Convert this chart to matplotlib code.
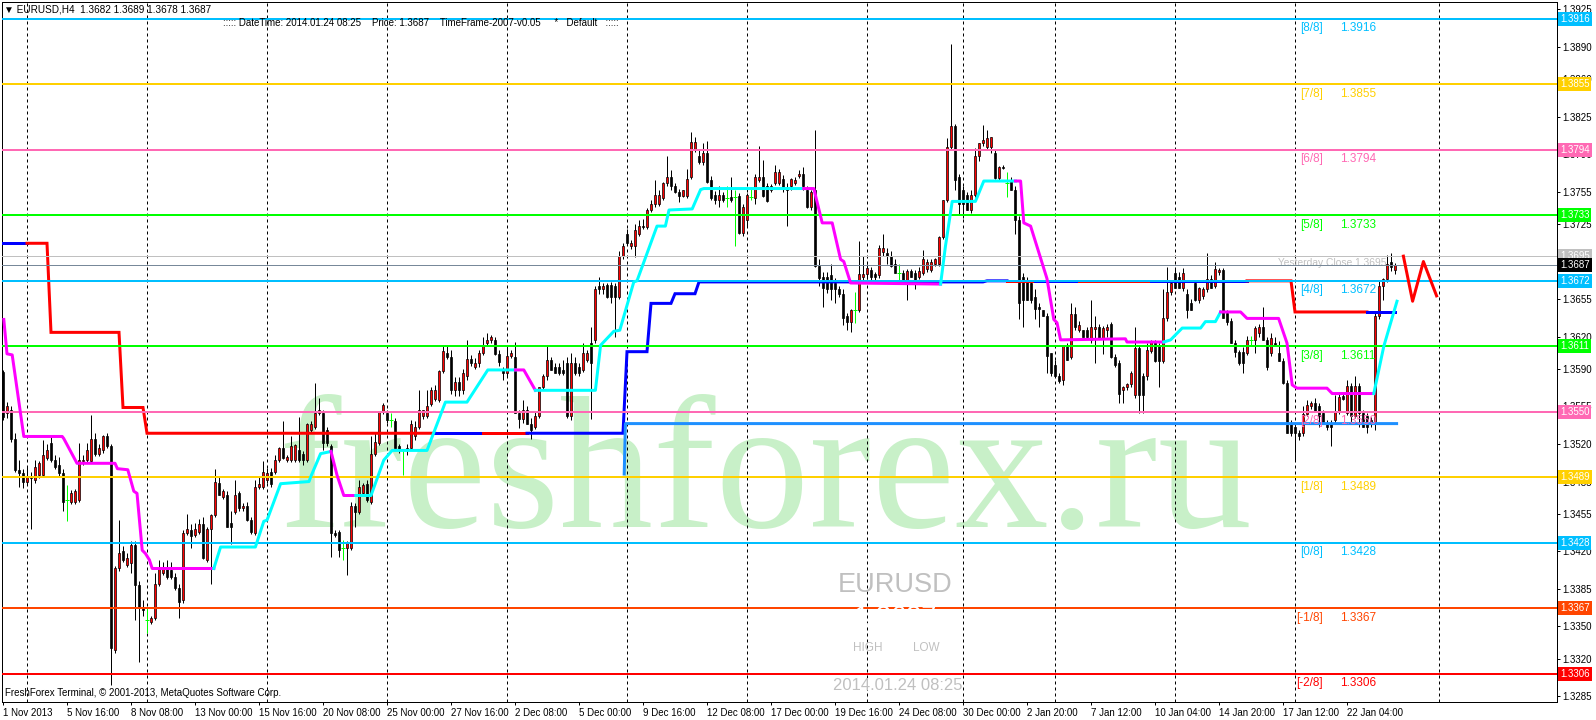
import numpy as np
import matplotlib
matplotlib.use('Agg')
import matplotlib.pyplot as plt
from matplotlib.transforms import blended_transform_factory

plt.rcParams['font.family'] = ['Liberation Sans', 'DejaVu Sans']

BASE = 1.3
PIP = 0.0001

# EURUSD H4 candles, prices in pips above 1.3000 (bar 0 = 1 Nov 2013 00:00)
open_pips = [
    587, 549, 552, 525, 496, 493, 485, 490, 486, 491,
    491, 507, 521, 505, 500, 493, 468, 466, 466, 468,
    504, 505, 504, 525, 511, 514, 527, 518, 328, 404,
    420, 407, 409, 426, 389, 367, 356, 354, 358, 390,
    400, 404, 403, 396, 386, 375, 437, 440, 435, 438,
    445, 412, 441, 454, 484, 471, 472, 446, 457, 474,
    460, 462, 449, 437, 480, 480, 486, 494, 494, 505,
    516, 505, 505, 505, 514, 511, 505, 533, 536, 549,
    549, 533, 518, 437, 438, 423, 423, 423, 462, 457,
    474, 483, 466, 511, 521, 550, 549, 542, 541, 518,
    514, 514, 516, 527, 536, 546, 546, 557, 562, 561,
    588, 605, 601, 570, 578, 570, 583, 599, 592, 595,
    605, 614, 617, 617, 604, 589, 586, 602, 601, 549,
    543, 552, 539, 536, 546, 573, 583, 598, 592, 592,
    589, 595, 546, 595, 592, 589, 598, 614, 617, 667,
    664, 668, 668, 667, 657, 695, 716, 704, 704, 716,
    723, 722, 738, 744, 744, 749, 763, 769, 760, 755,
    751, 751, 769, 794, 788, 783, 791, 766, 752, 747,
    752, 749, 750, 750, 751, 717, 729, 750, 749, 766,
    769, 760, 757, 763, 763, 767, 758, 760, 763, 770,
    772, 757, 741, 757, 686, 676, 676, 677, 670, 664,
    660, 639, 634, 645, 645, 676, 678, 682, 678, 677,
    699, 698, 695, 688, 679, 679, 673, 681, 679, 676,
    679, 683, 682, 688, 688, 713, 747, 797, 816, 769,
    757, 752, 738, 752, 788, 800, 797, 797, 791, 768,
    778, 763, 766, 757, 729, 676, 673, 670, 657, 648,
    645, 639, 605, 594, 583, 580, 611, 601, 641, 626,
    626, 626, 617, 627, 629, 618, 626, 632, 601, 595,
    570, 573, 576, 566, 609, 583, 583, 607, 615, 612,
    597, 637, 662, 679, 676, 665, 660, 651, 670, 654,
    658, 664, 674, 667, 680, 682, 642, 635, 614, 606,
    606, 605, 617, 617, 623, 629, 617, 605, 614, 605,
    597, 577, 539, 536, 530, 530, 548, 555, 558, 555,
    549, 540, 540, 542, 550, 565, 549, 574, 546, 574,
    549, 546, 542, 539, 639, 667, 674, 690, 682,
]
high_pips = [
    589, 559, 555, 530, 505, 497, 499, 494, 505, 504,
    524, 520, 527, 510, 508, 497, 482, 477, 478, 521,
    510, 521, 547, 530, 520, 528, 530, 520, 406, 449,
    425, 418, 430, 430, 392, 375, 367, 360, 400, 412,
    410, 412, 410, 400, 390, 440, 455, 445, 446, 450,
    452, 443, 455, 497, 490, 478, 476, 458, 486, 476,
    465, 466, 452, 486, 490, 504, 498, 498, 510, 517,
    541, 510, 527, 520, 545, 513, 540, 541, 577, 563,
    552, 536, 520, 440, 440, 431, 430, 466, 465, 486,
    484, 486, 527, 530, 551, 558, 552, 549, 544, 520,
    515, 520, 542, 541, 570, 552, 570, 573, 575, 589,
    611, 611, 608, 582, 582, 590, 617, 603, 600, 608,
    620, 623, 622, 620, 608, 592, 611, 608, 615, 552,
    561, 555, 544, 550, 573, 585, 612, 601, 595, 595,
    598, 601, 605, 601, 595, 614, 608, 629, 667, 676,
    670, 670, 671, 670, 700, 707, 720, 710, 725, 729,
    730, 740, 747, 766, 757, 764, 788, 775, 763, 758,
    757, 776, 811, 806, 794, 800, 802, 770, 756, 760,
    755, 760, 769, 757, 754, 744, 754, 759, 772, 798,
    785, 763, 762, 780, 776, 771, 763, 768, 769, 775,
    778, 760, 757, 813, 692, 680, 680, 688, 675, 667,
    664, 642, 646, 662, 709, 695, 688, 685, 680, 705,
    716, 703, 700, 692, 688, 682, 683, 683, 682, 685,
    701, 692, 692, 693, 714, 747, 805, 893, 818, 772,
    760, 755, 757, 796, 800, 817, 813, 806, 794, 779,
    780, 773, 769, 760, 732, 679, 676, 673, 664, 651,
    645, 642, 605, 598, 586, 611, 614, 651, 648, 635,
    626, 629, 654, 639, 632, 630, 632, 634, 604, 598,
    574, 577, 588, 629, 612, 586, 614, 617, 617, 614,
    664, 685, 672, 684, 680, 684, 664, 655, 673, 666,
    666, 698, 677, 690, 684, 684, 645, 637, 617, 608,
    610, 621, 621, 630, 632, 648, 620, 623, 620, 616,
    600, 580, 542, 540, 533, 555, 561, 560, 563, 558,
    552, 542, 542, 566, 568, 567, 580, 577, 583, 577,
    552, 549, 545, 642, 673, 675, 696, 698, 689,
]
low_pips = [
    542, 544, 522, 494, 480, 479, 483, 441, 484, 488,
    490, 505, 503, 497, 490, 458, 448, 464, 464, 466,
    500, 503, 502, 509, 509, 512, 516, 295, 325, 402,
    410, 405, 400, 356, 317, 360, 344, 352, 356, 388,
    398, 394, 394, 384, 358, 372, 435, 423, 433, 436,
    413, 410, 390, 452, 472, 469, 443, 427, 455, 458,
    458, 448, 436, 435, 478, 478, 484, 480, 492, 503,
    506, 503, 503, 503, 503, 500, 503, 531, 534, 547,
    514, 518, 415, 433, 415, 412, 398, 421, 443, 455,
    472, 466, 464, 509, 519, 548, 540, 536, 516, 512,
    491, 510, 514, 524, 534, 543, 544, 555, 560, 559,
    586, 599, 567, 565, 565, 567, 580, 593, 590, 592,
    603, 611, 614, 603, 593, 580, 583, 600, 549, 535,
    540, 539, 525, 534, 544, 570, 580, 589, 586, 584,
    584, 544, 542, 584, 583, 587, 596, 543, 614, 660,
    660, 656, 651, 620, 655, 692, 705, 702, 694, 714,
    720, 720, 736, 741, 742, 747, 760, 757, 754, 745,
    750, 749, 767, 792, 781, 780, 763, 747, 744, 741,
    745, 741, 745, 704, 716, 714, 722, 747, 744, 764,
    750, 745, 755, 761, 761, 755, 723, 757, 761, 768,
    757, 740, 738, 685, 667, 648, 661, 654, 651, 657,
    631, 626, 624, 633, 643, 672, 674, 670, 672, 675,
    695, 688, 685, 679, 673, 673, 654, 676, 664, 674,
    677, 680, 680, 686, 686, 711, 745, 795, 757, 734,
    731, 738, 735, 750, 784, 798, 795, 791, 767, 766,
    776, 750, 757, 716, 636, 629, 654, 651, 636, 629,
    639, 586, 583, 583, 577, 575, 598, 599, 626, 624,
    620, 618, 614, 595, 618, 604, 620, 600, 592, 558,
    558, 570, 573, 563, 549, 549, 580, 605, 596, 573,
    595, 635, 659, 665, 665, 663, 637, 645, 653, 651,
    655, 662, 665, 665, 677, 637, 631, 614, 601, 594,
    586, 603, 612, 605, 620, 617, 589, 602, 611, 597,
    576, 530, 527, 505, 524, 527, 546, 553, 551, 536,
    539, 533, 518, 540, 548, 561, 547, 539, 544, 536,
    536, 530, 536, 533, 636, 654, 671, 681, 678,
]
close_pips = [
    545, 555, 525, 496, 493, 485, 490, 488, 499, 502,
    510, 514, 505, 499, 493, 466, 468, 474, 476, 505,
    505, 514, 525, 511, 516, 527, 518, 330, 404, 418,
    412, 414, 426, 389, 367, 365, 356, 358, 390, 404,
    404, 396, 396, 386, 373, 437, 441, 434, 441, 445,
    414, 441, 454, 485, 472, 476, 443, 443, 472, 460,
    462, 449, 438, 480, 483, 494, 493, 483, 505, 516,
    507, 508, 518, 519, 505, 505, 539, 539, 549, 552,
    521, 521, 437, 435, 421, 423, 429, 462, 457, 480,
    482, 468, 511, 522, 550, 556, 542, 542, 516, 514,
    514, 516, 539, 536, 552, 552, 555, 570, 570, 588,
    607, 601, 570, 578, 570, 586, 599, 595, 595, 605,
    611, 617, 620, 604, 596, 586, 602, 605, 549, 543,
    552, 539, 533, 546, 573, 583, 598, 589, 586, 586,
    586, 546, 595, 586, 586, 605, 605, 595, 664, 664,
    667, 657, 657, 657, 695, 704, 707, 707, 719, 723,
    722, 738, 744, 752, 752, 763, 769, 760, 755, 751,
    757, 767, 801, 801, 783, 791, 764, 749, 747, 752,
    747, 749, 747, 750, 717, 741, 752, 750, 769, 769,
    751, 746, 760, 773, 773, 758, 757, 767, 766, 772,
    760, 741, 755, 686, 675, 665, 664, 664, 664, 660,
    637, 634, 645, 645, 678, 678, 684, 676, 676, 703,
    703, 695, 686, 679, 679, 673, 681, 676, 673, 681,
    692, 690, 690, 692, 713, 747, 797, 816, 766, 744,
    744, 738, 752, 788, 800, 803, 805, 806, 768, 778,
    777, 763, 757, 729, 651, 654, 654, 654, 646, 646,
    639, 602, 586, 583, 579, 611, 598, 641, 629, 631,
    620, 620, 629, 629, 618, 628, 629, 601, 594, 567,
    573, 576, 586, 609, 566, 566, 608, 615, 597, 597,
    637, 662, 670, 665, 665, 679, 645, 645, 654, 665,
    664, 674, 665, 683, 682, 637, 634, 614, 606, 595,
    595, 617, 617, 628, 629, 617, 592, 619, 611, 597,
    577, 530, 530, 530, 527, 548, 556, 558, 551, 546,
    539, 536, 536, 550, 564, 562, 574, 546, 574, 549,
    536, 536, 539, 639, 667, 674, 688, 685, 687,
]

date_labels = ["1 Nov 2013", "5 Nov 16:00", "8 Nov 08:00", "13 Nov 00:00", "15 Nov 16:00",
               "20 Nov 08:00", "25 Nov 00:00", "27 Nov 16:00", "2 Dec 08:00", "5 Dec 00:00",
               "9 Dec 16:00", "12 Dec 08:00", "17 Dec 00:00", "19 Dec 16:00", "24 Dec 08:00",
               "30 Dec 00:00", "2 Jan 20:00", "7 Jan 12:00", "10 Jan 04:00", "14 Jan 20:00",
               "17 Jan 12:00", "22 Jan 04:00"]
date_label_bars = [16 * k for k in range(len(date_labels))]
week_start_bars = [6, 36, 66, 96, 126, 156, 186, 216, 240, 263, 293, 323, 359]

price_ticks = [1.3925, 1.3890, 1.3860, 1.3825, 1.3790, 1.3755, 1.3725, 1.3690, 1.3655, 1.3620,
               1.3590, 1.3555, 1.3520, 1.3485, 1.3455, 1.3420, 1.3385, 1.3350, 1.3320, 1.3285]

# Murrey math levels
mm_names = ["[8/8]", "[7/8]", "[6/8]", "[5/8]", "[4/8]", "[3/8]", "[2/8]", "[1/8]", "[0/8]", "[-1/8]", "[-2/8]"]
mm_levels = [1.3916, 1.3855, 1.3794, 1.3733, 1.3672, 1.3611, 1.3550, 1.3489, 1.3428, 1.3367, 1.3306]
mm_colors = ['#00BFFF', '#FFD000', '#FF69B4', '#00FF00', '#00BFFF', '#00FF00', '#FF69B4', '#FFD000',
             '#00BFFF', '#FF4500', '#FF0000']
yesterday_close = 1.3695
last_price = 1.3687

# thick red/blue stepped line
sr_step_bars = [0, 12, 30, 36, 156, 162, 168, 174, 246, 323]
sr_step_pips = [707, 624, 554, 530, 606, 651, 660, 671, 672, 643]
sr_color_bars = [0, 6, 108, 120, 131, 251, 258, 269, 287, 311, 341]
sr_color_codes = ['b', 'r', 'b', 'r', 'b', 'r', 'b', 'r', 'b', 'r', 'b']

# magenta / cyan trailing line: (bar, pips, colour of the following segment)
trail_points = [
    (0.2, 636, 'm'), (1.0, 604, 'm'), (2.3, 603, 'm'), (5.2, 527, 'm'), (14.8, 527, 'm'),
    (15.2, 525, 'm'), (18.5, 502, 'm'), (28.0, 502, 'm'), (28.6, 497, 'm'), (31.2, 496, 'm'),
    (32.7, 476, 'm'), (33.5, 474, 'm'), (34.8, 421, 'm'), (35.6, 418, 'm'), (36.6, 412, 'm'),
    (37.3, 404, 'm'), (52.7, 404, 'c'), (54.4, 424, 'c'), (63.1, 424, 'c'), (65.2, 448, 'c'),
    (66.0, 449, 'c'), (69.4, 483, 'c'), (76.5, 485, 'c'), (77.0, 490, 'c'), (79.4, 511, 'c'),
    (82.0, 513, 'm'), (83.5, 491, 'm'), (85.2, 472, 'm'), (88.2, 472, 'c'), (92.0, 472, 'c'),
    (95.2, 505, 'c'), (97.3, 514, 'c'), (106.0, 514, 'c'), (110.6, 559, 'c'), (116.0, 559, 'c'),
    (121.2, 589, 'c'), (128.1, 589, 'm'), (130.2, 589, 'm'), (133.1, 570, 'c'), (148.1, 570, 'c'),
    (149.4, 612, 'c'), (152.7, 625, 'c'), (154.2, 626, 'c'), (157.7, 671, 'c'), (158.5, 672, 'c'),
    (163.5, 723, 'c'), (165.6, 723, 'c'), (166.5, 738, 'c'), (172.3, 739, 'c'), (174.4, 757, 'c'),
    (175.2, 758, 'c'), (200.2, 758, 'm'), (202.7, 758, 'm'), (204.8, 726, 'm'), (207.3, 726, 'm'),
    (209.4, 692, 'm'), (210.2, 690, 'm'), (211.9, 670, 'm'), (234.4, 669, 'c'), (235.6, 704, 'c'),
    (237.3, 746, 'c'), (243.1, 746, 'c'), (245.2, 765, 'c'), (253.1, 765, 'm'), (254.4, 765, 'm'),
    (255.2, 726, 'm'), (256.9, 723, 'm'), (261.0, 674, 'm'), (262.7, 636, 'm'), (263.5, 633, 'm'),
    (264.4, 617, 'm'), (280.6, 618, 'm'), (281.0, 615, 'm'), (290.2, 615, 'c'), (291.9, 617, 'c'),
    (294.8, 628, 'c'), (299.4, 628, 'c'), (300.6, 634, 'c'), (303.1, 634, 'c'), (304.4, 643, 'm'),
    (309.4, 643, 'm'), (311.0, 637, 'm'), (318.9, 637, 'm'), (321.0, 614, 'm'), (322.3, 575, 'm'),
    (323.5, 572, 'm'), (331.0, 572, 'm'), (332.3, 567, 'm'), (342.7, 567, 'c'), (345.2, 611, 'c'),
    (348.5, 653, 'c'),
]

support_bars = [155.3, 155.6, 348.4]
support_pips = [492, 539, 539]

zigzag_bars = [350.1, 352.4, 355.1, 358.4]
zigzag_pips = [695, 653, 690, 658]

W, H = 1596, 720
PX = 0.72  # one pixel in points at dpi 100


def to_price(p):
    return BASE + np.asarray(p, dtype=float) * PIP


fig = plt.figure(figsize=(W / 100, H / 100), dpi=100)
fig.patch.set_facecolor('white')
ax = fig.add_axes([2 / W, 18 / H, 1555 / W, 700 / H])
ax.set_xlim(-0.25, 388.5)
ax.set_ylim(1.32796, 1.39318)
for sp in ax.spines.values():
    sp.set_linewidth(PX)
    sp.set_color('black')

# watermark
ax.text(765 / W, 1 - 527 / H, 'freshforex.ru', transform=fig.transFigure, ha='center',
        va='baseline', fontsize=135, family='Liberation Serif', color='#c8f0c8', zorder=0.5)

# week grid
ax.vlines(week_start_bars, 1.32796, 1.39318, colors='black', linewidth=PX,
          linestyles=(0, (3, 3)), zorder=1)

# candles
o, h, l, c = (to_price(v) for v in (open_pips, high_pips, low_pips, close_pips))
xb = np.arange(len(c))
flat = np.isclose(c, o)
up = (c > o) & ~flat
down = (c < o) & ~flat
ax.vlines(xb[~flat], l[~flat], h[~flat], colors='black', linewidth=PX, zorder=3)
ax.bar(xb[up], (c - o)[up], bottom=o[up], width=0.72, color='#FF0000',
       edgecolor='black', linewidth=0.5, zorder=3.5)
ax.bar(xb[down], (c - o)[down], bottom=o[down], width=0.72, color='black',
       edgecolor='black', linewidth=0.5, zorder=3.5)
ax.vlines(xb[flat], l[flat], h[flat], colors='#00FF00', linewidth=PX, zorder=3)
ax.hlines(o[flat], xb[flat] - 0.4, xb[flat] + 0.4, colors='#00FF00', linewidth=PX, zorder=3)

# stepped red/blue line
n = len(c)
sr_vals = np.zeros(n)
for b, p in zip(sr_step_bars, sr_step_pips):
    sr_vals[b:] = p
sr_cols = np.empty(n, dtype=object)
for b, code in zip(sr_color_bars, sr_color_codes):
    sr_cols[b:] = code
sr_price = to_price(sr_vals)
colmap = {'r': '#FF0000', 'b': '#0000FF', 'm': '#FF00FF', 'c': '#00FFFF'}
start = 0
for i in range(1, n + 1):
    if i == n or sr_cols[i] != sr_cols[start]:
        stop = min(i + 1, n)
        ax.plot(xb[start:stop], sr_price[start:stop], color=colmap[sr_cols[start]],
                linewidth=3 * PX, solid_joinstyle='miter', zorder=4)
        start = i

# murrey lines and gray price lines (drawn over candles and the stepped line)
for lvl, col in zip(mm_levels, mm_colors):
    ax.axhline(lvl, color=col, linewidth=2 * PX, zorder=4.5)
ax.axhline(yesterday_close, color='#C0C0C0', linewidth=PX, zorder=4.5)
ax.axhline(last_price, color='#778899', linewidth=PX, zorder=4.5)

# magenta / cyan trailing line
tb = [t[0] for t in trail_points]
tp = to_price([t[1] for t in trail_points])
tc = [t[2] for t in trail_points]
start = 0
for i in range(1, len(tb)):
    if i == len(tb) - 1 or tc[i] != tc[start]:
        ax.plot(tb[start:i + 1], tp[start:i + 1], color=colmap[tc[start]],
                linewidth=3 * PX, zorder=5)
        start = i

ax.plot(support_bars, to_price(support_pips), color='#1E90FF', linewidth=3 * PX, zorder=4.8)
ax.plot(zigzag_bars, to_price(zigzag_pips), color='#FF0000', linewidth=3 * PX, zorder=4.8)

# murrey labels
for name, lvl, col in zip(mm_names, mm_levels, mm_colors):
    ax.annotate(name, (330, lvl), xytext=(0, -2.5), textcoords='offset points',
                ha='right', va='top', fontsize=8.5, color=col, zorder=6)
    ax.annotate(f'{lvl:.4f}', (334.25, lvl), xytext=(0, -2.5), textcoords='offset points',
                ha='left', va='top', fontsize=8.5, color=col, zorder=6)

ax.text(1387 / W, 1 - 263 / H, f'Yesterday Close {yesterday_close:.4f}', transform=fig.transFigure,
        ha='right', va='center', fontsize=7.4, color='#C0C0C0', zorder=3.2)

# right price axis
ax.yaxis.tick_right()
ax.set_yticks(price_ticks)
ax.set_yticklabels([f'{t:.4f}' for t in price_ticks])
ax.tick_params(axis='y', direction='out', length=3 * PX, width=PX, pad=2, labelsize=7)
trans = blended_transform_factory(ax.transAxes, ax.transData)
box_x = 1 + 3 / 1555
for lvl, col in zip(mm_levels, mm_colors):
    ax.text(box_x, lvl, f'{lvl:.4f}', transform=trans, ha='left', va='center', fontsize=7,
            color='white', clip_on=False, zorder=10,
            bbox=dict(boxstyle='square,pad=0.2', fc=col, ec='none'))
ax.text(box_x, yesterday_close, f'{yesterday_close:.4f}', transform=trans, ha='left', va='center',
        fontsize=7, color='white', clip_on=False, zorder=10,
        bbox=dict(boxstyle='square,pad=0.2', fc='#C0C0C0', ec='none'))
ax.text(box_x, last_price, f'{last_price:.4f}', transform=trans, ha='left', va='center',
        fontsize=7, color='white', clip_on=False, zorder=11,
        bbox=dict(boxstyle='square,pad=0.2', fc='black', ec='none'))

# bottom time axis
ax.set_xticks(date_label_bars)
ax.set_xticklabels(date_labels)
for lab in ax.get_xticklabels():
    lab.set_ha('left')
ax.tick_params(axis='x', direction='out', length=3 * PX, width=PX, pad=2, labelsize=7)

# overlay texts
fig.text(4 / W, 1 - 9 / H, '\u25bc EURUSD,H4  1.3682 1.3689 1.3678 1.3687', ha='left', va='center',
         fontsize=7.2, color='black')
fig.text(223 / W, 1 - 23 / H,
         '::::: DateTime: 2014.01.24 08:25    Price: 1.3687    TimeFrame-2007-v0.05     *   Default   :::::',
         ha='left', va='center', fontsize=7, color='black')
fig.text(5 / W, 1 - 693 / H, 'FreshForex Terminal, \u00a9 2001-2013, MetaQuotes Software Corp.',
         ha='left', va='center', fontsize=7, color='black')
fig.text(895 / W, 1 - 585 / H, 'EURUSD', ha='center', va='center', fontsize=19.5, color='#C0C0C0')
fig.text(896 / W, 1 - 605 / H, '1.3687', ha='center', va='top', fontsize=19.5, color='white', zorder=5)
fig.text(868 / W, 1 - 648 / H, 'HIGH', ha='center', va='center', fontsize=8.5, color='#C0C0C0')
fig.text(926 / W, 1 - 648 / H, 'LOW', ha='center', va='center', fontsize=8.5, color='#C0C0C0')
fig.text(898 / W, 1 - 685 / H, '2014.01.24 08:25', ha='center', va='center', fontsize=12, color='#C0C0C0')

fig.savefig('out.png', dpi=100)
